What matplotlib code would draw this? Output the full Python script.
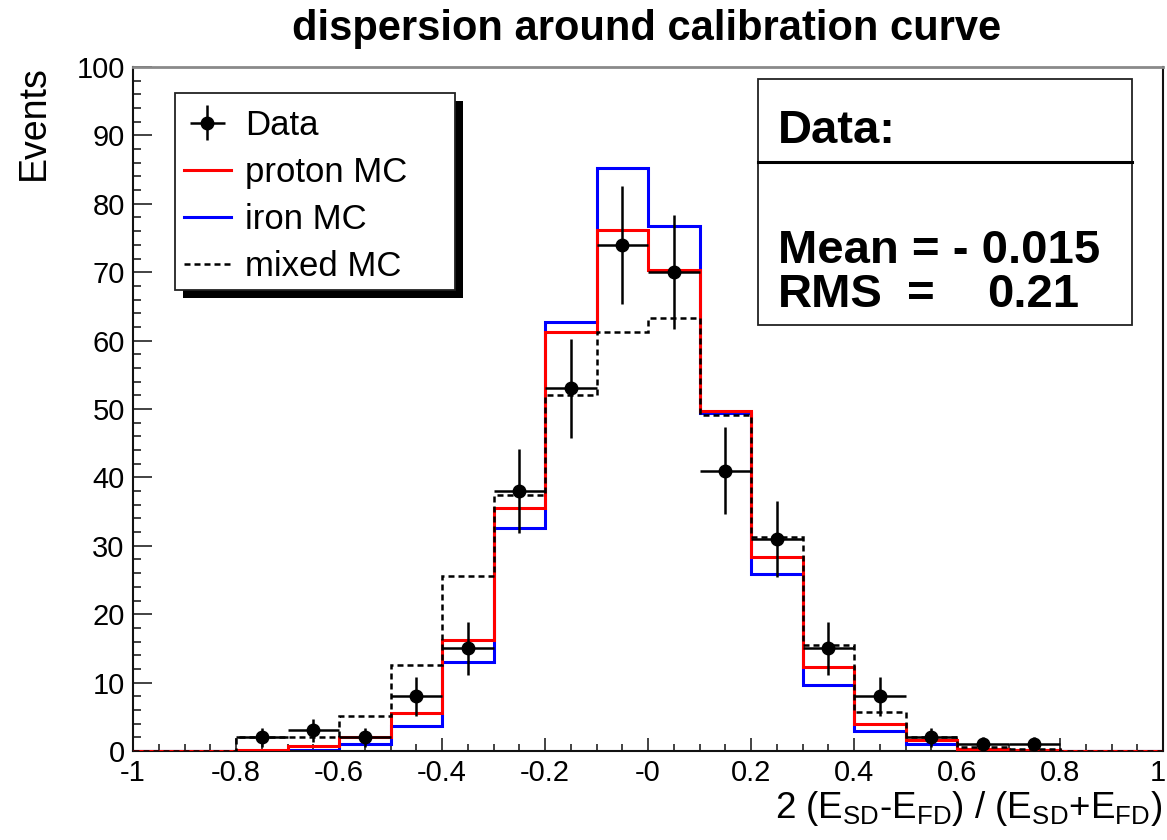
import numpy as np
import matplotlib
matplotlib.use("Agg")
import matplotlib.pyplot as plt
import matplotlib.transforms as mtransforms
from matplotlib.patches import Rectangle
from matplotlib.lines import Line2D
from matplotlib.ticker import MultipleLocator, FixedLocator, FixedFormatter

plt.rcParams['font.family'] = ['Liberation Sans', 'DejaVu Sans']
plt.rcParams['mathtext.fontset'] = 'custom'
plt.rcParams['mathtext.rm'] = 'Liberation Sans'
plt.rcParams['mathtext.it'] = 'Liberation Sans:italic'
plt.rcParams['mathtext.bf'] = 'Liberation Sans:bold'

# ---------------- data ----------------
bin_edges = [-1.0, -0.9, -0.8, -0.7, -0.6, -0.5, -0.4, -0.3, -0.2, -0.1, 0.0,
             0.1, 0.2, 0.3, 0.4, 0.5, 0.6, 0.7, 0.8, 0.9, 1.0]
data_counts = [0, 0, 2, 3, 2, 8, 15, 38, 53, 74, 70, 41, 31, 15, 8, 2, 1, 1, 0, 0]
proton_mc = [0, 0, 0.1, 0.7, 2.0, 5.5, 16.2, 35.5, 61.3, 76.2, 70.3, 49.7, 28.3,
             12.3, 3.9, 1.6, 0.3, 0.1, 0, 0]
iron_mc = [0, 0, 0, 0.2, 1.0, 3.6, 13.0, 32.6, 62.7, 85.2, 76.8, 49.4, 25.9,
           9.6, 2.9, 1.0, 0.3, 0.1, 0, 0]
mixed_mc = [0, 0, 2.0, 2.0, 5.1, 12.6, 25.6, 37.4, 52.0, 61.3, 63.3, 49.1, 31.3,
            15.5, 5.7, 2.0, 0.6, 0.3, 0, 0]
x_tick_values = [-1, -0.8, -0.6, -0.4, -0.2, 0, 0.2, 0.4, 0.6, 0.8, 1]
x_tick_labels = ["-1", "-0.8", "-0.6", "-0.4", "-0.2", "-0", "0.2", "0.4", "0.6", "0.8", "1"]
y_tick_values = [0, 10, 20, 30, 40, 50, 60, 70, 80, 90, 100]
legend_labels = ["Data", "proton MC", "iron MC", "mixed MC"]
title_text = "dispersion around calibration curve"
stats_title = "Data:"
stats_mean = "Mean = - 0.015"
stats_rms = ("RMS", "=", "0.21")

# ---------------- figure ----------------
W, H = 1167, 840
fig = plt.figure(figsize=(W / 100, H / 100), dpi=100)
fig.patch.set_facecolor('white')

def fx(px):
    return px / W

def fy(py):
    return 1 - py / H

ax = fig.add_axes([fx(133), fy(751), fx(1163) - fx(133), fy(67) - fy(751)])
ax.set_xlim(-1, 1)
ax.set_ylim(0, 100)

edges = np.array(bin_edges)
centers = 0.5 * (edges[:-1] + edges[1:])
half_w = 0.5 * np.diff(edges)

ax.stairs(iron_mc, edges, color='#0000ff', lw=2.2, zorder=2)
ax.stairs(proton_mc, edges, color='#ff0000', lw=2.2, zorder=3)
ax.stairs(mixed_mc, edges, color='black', lw=1.8, linestyle=(0, (2.4, 1.6)), zorder=4)

d = np.array(data_counts, dtype=float)
m = d > 0
eb = ax.errorbar(centers[m], d[m], xerr=half_w[m], yerr=np.sqrt(d[m]), fmt='o',
                 color='black', ms=9, lw=1.8, capsize=0, zorder=5)

# axes styling
ax.xaxis.set_major_locator(FixedLocator(x_tick_values))
ax.xaxis.set_major_formatter(FixedFormatter(x_tick_labels))
ax.xaxis.set_minor_locator(MultipleLocator(0.05))
ax.yaxis.set_major_locator(FixedLocator(y_tick_values))
ax.yaxis.set_minor_locator(MultipleLocator(2))
ax.tick_params(which='both', direction='in', top=False, right=False,
               labelsize=21, width=1.2, color='#222222')
ax.tick_params(axis='x', which='major', length=9.5, pad=6)
ax.tick_params(axis='x', which='minor', length=5)
ax.tick_params(axis='y', which='major', length=14, pad=6)
ax.tick_params(axis='y', which='minor', length=6)
for s in ['left', 'bottom', 'right']:
    ax.spines[s].set_linewidth(1.5)
    ax.spines[s].set_color('#111111')
ax.spines['top'].set_linewidth(2.0)
ax.spines['top'].set_color('#8a8a8a')

# nudge the last x tick label so it stays inside the figure
fig.canvas.draw()
last_lbl = ax.get_xticklabels()[-1]
last_lbl.set_transform(last_lbl.get_transform() +
                       mtransforms.ScaledTranslation(-5 / 100, 0, fig.dpi_scale_trans))

# title and axis labels
fig.text(fx(647), fy(40), title_text, ha='center', va='baseline',
         fontsize=30, fontweight='bold')
fig.text(fx(1162), fy(818),
         r'2 (E$_{\mathrm{SD}}$-E$_{\mathrm{FD}}$) / (E$_{\mathrm{SD}}$+E$_{\mathrm{FD}}$)',
         ha='right', va='baseline', fontsize=26.5)
fig.text(fx(34), fy(65), 'Events', rotation=90, ha='center', va='top', fontsize=27)

# legend box with shadow
lx0, ly0, lx1, ly1 = 175, 93, 455, 290
fig.add_artist(Rectangle((fx(lx0 + 8), fy(ly1 + 8)), fx(lx1) - fx(lx0), fy(ly0) - fy(ly1),
                         transform=fig.transFigure, facecolor='black', edgecolor='none', zorder=6))
fig.add_artist(Rectangle((fx(lx0), fy(ly1)), fx(lx1) - fx(lx0), fy(ly0) - fy(ly1),
                         transform=fig.transFigure, facecolor='white', edgecolor='#222222',
                         lw=1.3, zorder=7))
h_red = Line2D([], [], color='#ff0000', lw=2.2)
h_blue = Line2D([], [], color='#0000ff', lw=2.2)
h_mixed = Line2D([], [], color='black', lw=1.8, linestyle=(0, (2.4, 1.6)))
leg = fig.legend([eb, h_red, h_blue, h_mixed], legend_labels, loc='upper left',
                 bbox_to_anchor=(fx(184), fy(109)), frameon=False, fontsize=25,
                 handlelength=1.35, handletextpad=0.4, labelspacing=0.40,
                 borderpad=0, borderaxespad=0)
leg.set_zorder(8)

# stats box
sx0, sy0, sx1, sy1 = 758, 79, 1132, 325
fig.add_artist(Rectangle((fx(sx0), fy(sy1)), fx(sx1) - fx(sx0), fy(sy0) - fy(sy1),
                         transform=fig.transFigure, facecolor='white', edgecolor='#222222',
                         lw=1.3, zorder=7))
fig.add_artist(Line2D([fx(sx0), fx(sx1)], [fy(162), fy(162)], transform=fig.transFigure,
                      color='black', lw=2.2, zorder=8))
fs_stats = 34
fig.text(fx(778), fy(143), stats_title, ha='left', va='baseline', fontsize=fs_stats,
         fontweight='bold', zorder=9)
fig.text(fx(778), fy(263), stats_mean, ha='left', va='baseline', fontsize=fs_stats,
         fontweight='bold', zorder=9)
fig.text(fx(778), fy(307), stats_rms[0], ha='left', va='baseline', fontsize=fs_stats,
         fontweight='bold', zorder=9)
fig.text(fx(907), fy(307), stats_rms[1], ha='left', va='baseline', fontsize=fs_stats,
         fontweight='bold', zorder=9)
fig.text(fx(1079), fy(307), stats_rms[2], ha='right', va='baseline', fontsize=fs_stats,
         fontweight='bold', zorder=9)

fig.savefig('out.png', dpi=100)
